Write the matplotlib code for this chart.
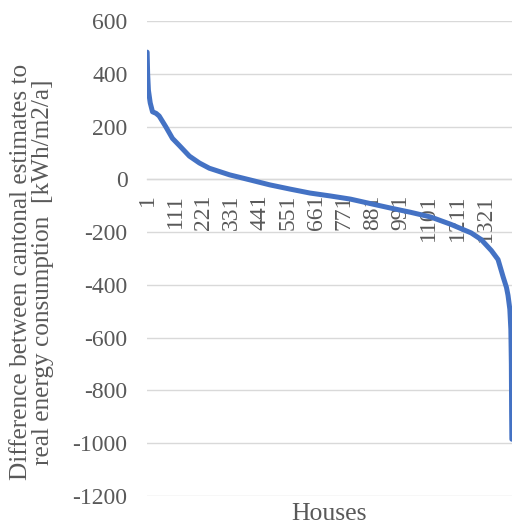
import matplotlib
matplotlib.use("Agg")
import matplotlib.pyplot as plt

# Data (house rank -> difference)
houses = [1, 3, 6, 13, 22, 36, 48, 74, 100, 127, 166, 205, 244, 323, 402, 480,
          559, 637, 716, 795, 873, 952, 1030, 1109, 1188, 1266, 1305, 1345,
          1371, 1391, 1404, 1410, 1417, 1421, 1423, 1424, 1425]
diff = [482, 400, 338, 290, 256, 250, 240, 199, 155, 128, 88, 62, 42, 17, -2, -21,
        -37, -52, -63, -75, -92, -109, -125, -143, -171, -203, -228, -270,
        -304, -370, -410, -440, -492, -568, -700, -880, -985]
n_houses = 1425
xtick_vals = [1, 111, 221, 331, 441, 551, 661, 771, 881, 991, 1101, 1211, 1321]
ytick_vals = [-1200, -1000, -800, -600, -400, -200, 0, 200, 400, 600]

plt.rcParams["font.family"] = ["Liberation Serif", "DejaVu Serif"]

W, H = 512, 525
fig = plt.figure(figsize=(W / 100, H / 100), dpi=100)
left, right, top, bottom = 147, 512, 21, 496
ax = fig.add_axes([left / W, 1 - bottom / H, (right - left) / W, (bottom - top) / H])

gray = "#595959"
fs_tick = 17
fs_title = 18.2

ax.tick_params(axis="both", length=0, labelsize=fs_tick, labelcolor=gray)
ax.tick_params(axis="y", pad=14)
ax.tick_params(axis="x", pad=11, labelrotation=90)

ax.plot(houses, diff, color="#4472C4", linewidth=3.6, solid_capstyle="round",
        solid_joinstyle="round", zorder=3)

ax.set_xlim(0.5, n_houses + 0.5)
ax.set_ylim(-1200, 600)
ax.set_yticks(ytick_vals)
ax.set_yticklabels([str(v) for v in ytick_vals])
ax.set_xticks(xtick_vals)
ax.set_xticklabels([str(v) for v in xtick_vals])

ax.grid(axis="y", color="#D9D9D9", linewidth=1.0, zorder=0)
ax.set_axisbelow(True)
for s in ["top", "right", "left"]:
    ax.spines[s].set_visible(False)
ax.spines["bottom"].set_position(("data", 0))
ax.spines["bottom"].set_color("#D9D9D9")
ax.spines["bottom"].set_linewidth(1.0)

fig.text(32 / W, 1 - 272 / H,
         "Difference between cantonal estimates to\nreal energy consumption  [kWh/m2/a]",
         rotation=90, ha="center", va="center", fontsize=fs_title,
         color=gray, linespacing=1.0)
fig.text(329 / W, 1 - 514 / H, "Houses", ha="center", va="center",
         fontsize=18.5, color=gray)

fig.savefig("out.png", dpi=100, facecolor="white")
